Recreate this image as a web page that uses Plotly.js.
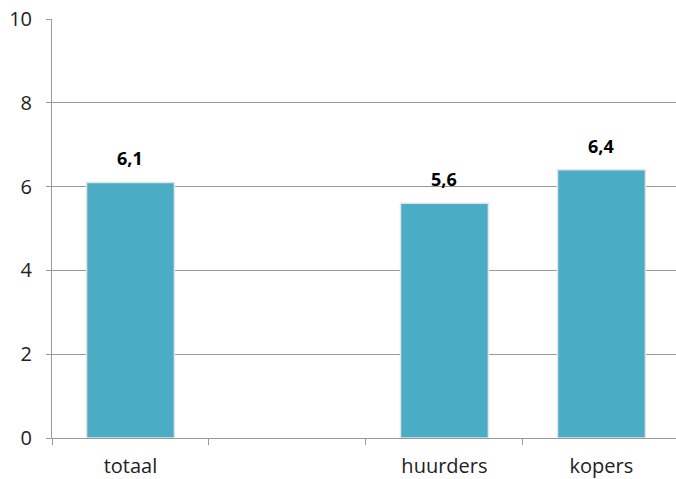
<!DOCTYPE html>
<html>
<head>
<meta charset="utf-8">
<script src="https://cdn.plot.ly/plotly-3.0.1.min.js"></script>
<style>html,body{margin:0;padding:0;background:#fff;}#chart{width:676px;height:479px;}</style>
</head>
<body>
<div id="chart"></div>
<script>
const categories = ["totaal", " ", "huurders", "kopers"];
const values = [6.1, null, 5.6, 6.4];
const yTicks = [0, 2, 4, 6, 8, 10];

const fontFam = "Open Sans, Liberation Sans, sans-serif";

const annotations = categories.map((c, i) => values[i] == null ? null : ({
  x: c, y: values[i], xref: "x", yref: "y",
  text: "<b>" + values[i].toFixed(1).replace(".", ",") + "</b>",
  showarrow: false, yanchor: "bottom", yshift: 10,
  font: {family: fontFam, size: 18, color: "#000"}
})).filter(a => a);

const trace = {
  type: "bar",
  x: categories,
  y: values,
  width: 0.56,
  marker: {color: "#4BACC6", line: {color: "#e4e4e4", width: 1.5}},
  hoverinfo: "skip"
};

const layout = {
  width: 676, height: 479,
  margin: {l: 52, r: 0, t: 19, b: 41},
  paper_bgcolor: "#fff", plot_bgcolor: "#fff",
  showlegend: false,
  separators: ",.",
  font: {family: fontFam, size: 20, color: "#222"},
  xaxis: {
    type: "category",
    categoryorder: "array", categoryarray: categories,
    range: [-0.5, 3.475],
    tickson: "boundaries",
    ticks: "outside", ticklen: 6, tickcolor: "#999",
    ticklabelstandoff: 10,
    showline: true, linecolor: "#999", linewidth: 1,
    showgrid: false,
    tickfont: {family: fontFam, size: 20, color: "#222"},
    fixedrange: true
  },
  yaxis: {
    range: [0, 10],
    tickvals: yTicks,
    ticks: "outside", ticklen: 5, tickcolor: "#999",
    ticklabelstandoff: 10,
    showline: true, linecolor: "#999", linewidth: 1,
    showgrid: true, gridcolor: "#999", gridwidth: 1,
    zeroline: false,
    tickfont: {family: fontFam, size: 20, color: "#222"},
    fixedrange: true
  },
  annotations: annotations
};

Plotly.newPlot("chart", [trace], layout, {displayModeBar: false, staticPlot: true});
</script>
</body>
</html>
